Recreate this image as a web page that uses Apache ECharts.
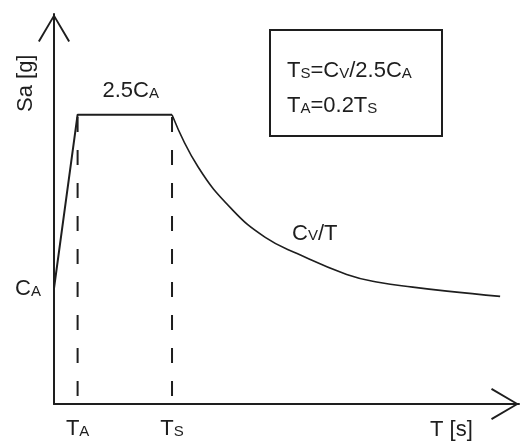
<!DOCTYPE html>
<html lang="en">
<head>
    <meta charset="UTF-8">
    <title>Design spectrum</title>
    <script src="https://cdn.jsdelivr.net/npm/echarts@6.0.0/dist/echarts.min.js"></script>
    <style>
        html, body { margin: 0; padding: 0; background: #fff; }
    </style>
</head>
<body>
<div id="main" style="width: 520px;height: 441px"></div>
<script type="text/javascript">
    // values (Ts = 1, CA = 1)
    var rampT = [0, 0.2, 1];
    var rampSa = [1.0, 2.5, 2.5];
    var curveT = [1, 1.22, 1.51, 1.79, 2.06, 2.48, 2.76, 3.04, 3.33, 3.78];
    var curveSa = [2.5, 2.05, 1.68, 1.44, 1.30, 1.12, 1.05, 1.01, 0.975, 0.93];
    var markT = [0.2, 1];            // TA, Ts
    var markSa = [2.48, 0.05];       // dashed guide from plateau down to axis
    var xTickLabels = ['{b|T}{s|A}', '{b|T}{s|S}'];
    var yTickValues = [1];
    var yTickLabels = ['{b|C}{s|A}'];

    function pairs(xs, ys) {
        var out = [];
        for (var i = 0; i < xs.length; i++) {
            out.push([xs[i], ys[i]]);
        }
        return out;
    }

    var font = 'Liberation Sans';
    var ink = '#1e1e1e';
    function richText(lh) {
        return {
            b: {fontSize: 22, fontFamily: font, fontWeight: 'normal', color: ink, verticalAlign: 'bottom', lineHeight: lh},
            s: {fontSize: 15, fontFamily: font, fontWeight: 'normal', color: ink, verticalAlign: 'bottom', lineHeight: lh, padding: [0, 0, 1, 0]}
        };
    }
    var rich = richText(35);
    var tickRich = richText(24);
    // open chevron arrow head, tip on top
    var arrowHead = 'path://M16,0L32,27L30.3,28L16,3.4L1.7,28L0,27Z';

    var myChart = echarts.init(document.getElementById('main'));
    var option = {
        backgroundColor: '#fff',
        animation: false,
        title: {
            left: 270,
            top: 30,
            padding: [17, 30, 19, 17],
            borderColor: ink,
            borderWidth: 2,
            text: '{b|T}{s|S}{b|=C}{s|V}{b|/2.5C}{s|A}\n{b|T}{s|A}{b|=0.2T}{s|S}',
            textStyle: {rich: rich, lineHeight: 35, fontWeight: 'normal'}
        },
        grid: {left: 54, right: 1, top: 14, bottom: 37, outerBoundsMode: 'none'},
        xAxis: {
            type: 'value',
            min: 0,
            max: 3.94,
            name: 'T [s]',
            nameLocation: 'end',
            nameGap: -89,
            nameTextStyle: {fontFamily: font, fontSize: 22, color: ink, verticalAlign: 'top', lineHeight: 52},
            axisLine: {
                lineStyle: {color: ink, width: 2},
                symbol: ['none', arrowHead],
                symbolSize: [32, 28],
                symbolOffset: [0, -14]
            },
            axisTick: {show: false},
            splitLine: {show: false},
            axisLabel: {
                customValues: markT,
                margin: 12,
                formatter: function (v) {
                    return xTickLabels[markT.indexOf(v)] || '';
                },
                rich: tickRich
            }
        },
        yAxis: {
            type: 'value',
            min: 0,
            max: 3.37,
            name: 'Sa [g]',
            nameLocation: 'end',
            nameRotate: 90,
            nameGap: -98,
            nameTextStyle: {fontFamily: font, fontSize: 22, color: ink, verticalAlign: 'bottom', lineHeight: 56},
            axisLine: {
                lineStyle: {color: ink, width: 2},
                symbol: ['none', arrowHead],
                symbolSize: [32, 28],
                symbolOffset: [0, -14]
            },
            axisTick: {show: false},
            splitLine: {show: false},
            axisLabel: {
                customValues: yTickValues,
                margin: 13,
                formatter: function (v) {
                    return yTickLabels[yTickValues.indexOf(v)] || '';
                },
                rich: tickRich
            }
        },
        series: [
            {
                name: 'ramp',
                type: 'line',
                data: pairs(rampT, rampSa),
                symbol: 'none',
                lineStyle: {color: ink, width: 2},
                markPoint: {
                    symbol: 'circle',
                    symbolSize: 0,
                    label: {show: true, position: 'inside', formatter: '{b|2.5C}{s|A}', rich: rich},
                    data: [{coord: [0.65, 2.76]}]
                }
            },
            {
                name: 'Cv/T',
                type: 'line',
                data: pairs(curveT, curveSa),
                smooth: 0.45,
                symbol: 'none',
                lineStyle: {color: ink, width: 1.6},
                markPoint: {
                    symbol: 'circle',
                    symbolSize: 0,
                    label: {show: true, position: 'inside', formatter: '{b|C}{s|V}{b|/T}', rich: rich},
                    data: [{coord: [2.21, 1.53]}]
                }
            },
            {
                name: 'TA',
                type: 'line',
                data: pairs([markT[0], markT[0]], markSa),
                symbol: 'none',
                lineStyle: {color: ink, width: 2, type: [15, 18]}
            },
            {
                name: 'Ts',
                type: 'line',
                data: pairs([markT[1], markT[1]], markSa),
                symbol: 'none',
                lineStyle: {color: ink, width: 2, type: [15, 18]}
            }
        ]
    };
    myChart.setOption(option);
</script>
</body>
</html>
